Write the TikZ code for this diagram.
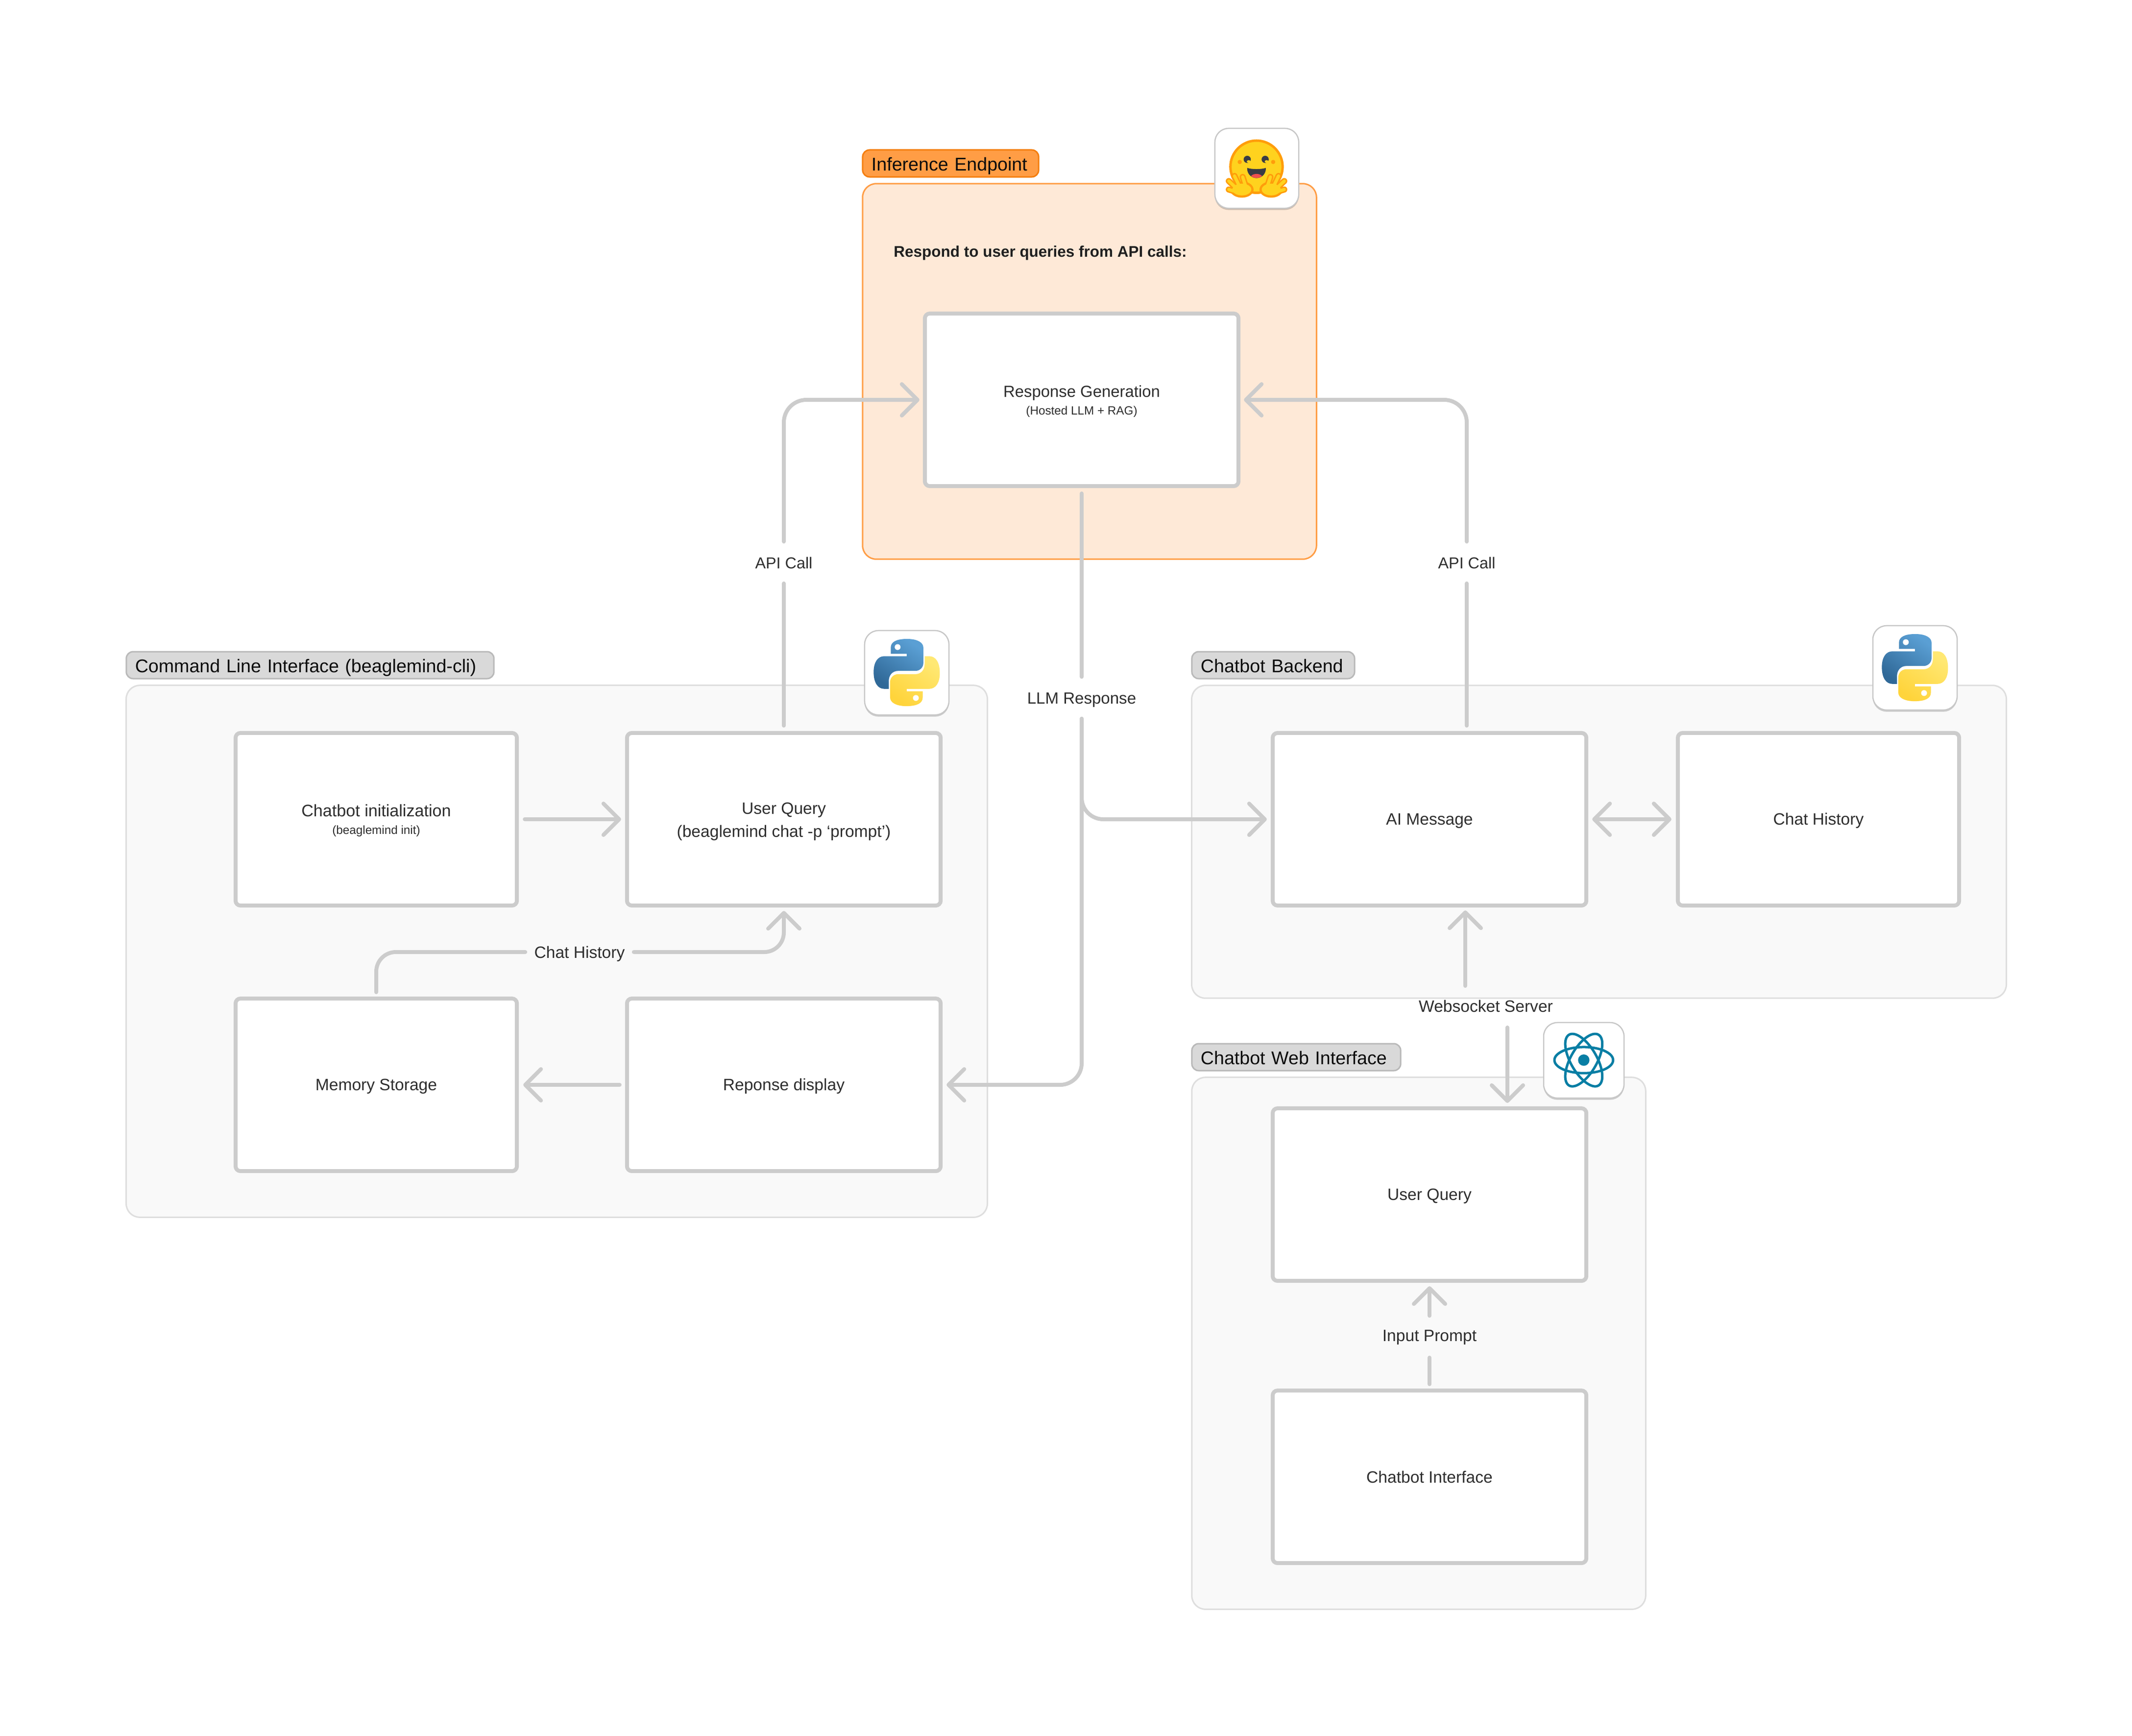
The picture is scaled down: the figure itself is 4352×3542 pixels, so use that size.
\documentclass[tikz,border=0pt]{standalone}
\usepackage{fontspec}
\setmainfont{Liberation Sans}
\usetikzlibrary{arrows.meta,shadows,calc}
\definecolor{linegray}{HTML}{CCCCCC}
\definecolor{txtgray}{HTML}{2E2E2E}
\definecolor{panelfill}{HTML}{F9F9F9}
\definecolor{panelline}{HTML}{DEDEDE}
\definecolor{orfill}{HTML}{FEE9D7}
\definecolor{orline}{HTML}{FF9D45}
\definecolor{pillfill}{HTML}{D9D9D9}
\definecolor{pillline}{HTML}{B9B9B9}
\definecolor{orpill}{HTML}{FF9D45}
\definecolor{orpilll}{HTML}{F47E0F}
\definecolor{pyblueA}{HTML}{5A9FD4}
\definecolor{pyblueB}{HTML}{306998}
\definecolor{pyyelA}{HTML}{FFE873}
\definecolor{pyyelB}{HTML}{FFD43B}
\definecolor{reactc}{HTML}{087EA4}
\definecolor{hfyel}{HTML}{FFD21E}
\definecolor{hfora}{HTML}{FF9D0B}
\definecolor{hfdark}{HTML}{3A3B45}
\definecolor{hfred}{HTML}{EF4E4E}
\newcommand{\mainsz}{\fontsize{9.55}{14}\selectfont}
\newcommand{\subsz}{\fontsize{6.9}{9}\selectfont}
\newcommand{\pillsz}{\fontsize{10.7}{13}\selectfont}
\newcommand{\pillstrut}{\rule[-2.6pt]{0pt}{13.8pt}}
\newcommand{\lowered}[1]{\raisebox{0pt}[\dimexpr\height+1.7pt\relax][\depth]{#1}}
\newcommand{\pylogo}[2]{%
 \begin{scope}[shift={(#1,#2)},x=0.003333cm,y=-0.003333cm]
  \path[left color=pyblueA,right color=pyblueB,shading angle=-35]
   (245,42) .. controls (180,42) and (145,60) .. (145,95) -- (145,133) -- (243,133) -- (243,148) -- (105,148)
   .. controls (65,148) and (40,185) .. (40,245) .. controls (40,310) and (65,348) .. (105,348) -- (133,348) -- (133,300)
   .. controls (133,265) and (155,238) .. (190,238) -- (295,238) .. controls (325,238) and (345,215) .. (345,190)
   -- (345,95) .. controls (345,65) and (310,42) .. (245,42) -- cycle;
  \fill[white] (187,92) circle (18);
  \begin{scope}[rotate around={180:(243,248)}]
  \path[left color=pyyelA,right color=pyyelB,shading angle=-35]
   (245,42) .. controls (180,42) and (145,60) .. (145,95) -- (145,133) -- (243,133) -- (243,148) -- (105,148)
   .. controls (65,148) and (40,185) .. (40,245) .. controls (40,310) and (65,348) .. (105,348) -- (133,348) -- (133,300)
   .. controls (133,265) and (155,238) .. (190,238) -- (295,238) .. controls (325,238) and (345,215) .. (345,190)
   -- (345,95) .. controls (345,65) and (310,42) .. (245,42) -- cycle;
  \fill[white] (187,92) circle (18);
  \end{scope}
 \end{scope}}
\newcommand{\hfhand}{%
  \foreach \ax/\ay/\bx/\by in {165/345/140/268,125/335/90/262,110/345/55/293,105/360/55/345}{
    \draw[hfora,line width=0.125cm,line cap=round] (\ax,\ay) -- (\bx,\by);}
  \fill[hfora] (135,345) ellipse [x radius=72,y radius=50];
  \foreach \ax/\ay/\bx/\by in {165/345/140/268,125/335/90/262,110/345/55/293,105/360/55/345}{
    \draw[hfyel,line width=0.065cm,line cap=round] (\ax,\ay) -- (\bx,\by);}
  \fill[hfyel] (135,345) ellipse [x radius=58,y radius=36];}
\tikzset{
 panel/.style={draw=panelline,fill=panelfill,line width=0.03cm,rounded corners=0.28cm,inner sep=0pt},
 orpanel/.style={draw=orline,fill=orfill,line width=0.03cm,rounded corners=0.28cm,inner sep=0pt},
 box/.style={draw=linegray,fill=white,line width=0.08cm,rounded corners=0.1cm,inner sep=0pt,
   font=\mainsz,text=txtgray,minimum height=3.52cm},
 wbox/.style={box,minimum width=6.4cm},
 nbox/.style={box,minimum width=5.74cm},
 oneline/.style={text height=9.2pt,text depth=2.4pt},
 linetext/.style={inner sep=0pt,font=\mainsz,text=txtgray,text height=9.7pt,text depth=2.4pt},
 vlabel/.style={linetext,minimum height=0.84cm},
 hlabel/.style={linetext,minimum width=2.2cm},
 pill/.style={draw=pillline,fill=pillfill,line width=0.03cm,rounded corners=0.14cm,inner xsep=0.18cm,inner ysep=0pt,
   font=\pillsz,text=black!95,align=left,minimum height=0.55cm},
 orangepill/.style={pill,draw=orpilll,fill=orpill},
 iconbox/.style={draw=black!22,fill=white,line width=0.025cm,rounded corners=0.28cm,inner sep=0pt,
   drop shadow={shadow xshift=0cm,shadow yshift=-0.035cm,opacity=0.18,fill=black}},
 conn/.style={draw=linegray,line width=0.08cm,line cap=round,line join=round},
 arrowed/.style={conn,-{Straight Barb[length=0.32cm,width=0.64cm,round]}},
 arrowedboth/.style={conn,{Straight Barb[length=0.32cm,width=0.64cm,round]}-{Straight Barb[length=0.32cm,width=0.64cm,round]}},
}
\begin{document}
\begin{tikzpicture}[x=0.01cm,y=-0.01cm]
\useasboundingbox (0,0) rectangle (4352,3542);
\fill[white] (0,0) rectangle (4352,3542);
% panels
\node[orpanel,minimum width=9.26cm,minimum height=7.66cm] (pinf) at (2224,758) {};
\node[panel,minimum width=17.57cm,minimum height=10.85cm] (pcli) at (1136.5,1941.5) {};
\node[panel,minimum width=16.62cm,minimum height=6.38cm] (pbk) at (3264,1718) {};
\node[panel,minimum width=9.26cm,minimum height=10.85cm] (pweb) at (2896,2741.5) {};
% section labels
\node[orangepill,text width=3.23cm] (linf) at (1940.5,333.5) {\pillstrut Inference Endpoint};
\node[pill,text width=7.14cm] (lcli) at (633,1357.5) {\pillstrut Command Line Interface (beaglemind-cli)};
\node[pill,text width=2.96cm] (lbk) at (2599,1357.5) {\pillstrut Chatbot Backend};
\node[pill,text width=3.90cm] (lweb) at (2646,2157.5) {\pillstrut Chatbot Web Interface};
\node[inner sep=0pt,font=\fontsize{8.95}{11}\selectfont\bfseries,text=black!88] (resptitle) at (2123.5,516) {Respond to user queries from API calls:};
% boxes
\node[wbox] (resp) at (2208,816) {\lowered{\begin{tabular}{@{}c@{}}{\fontsize{9.35}{14}\selectfont Response Generation}\\[-3.7pt]{\subsz (Hosted LLM + RAG)}\end{tabular}}};
\node[nbox] (init) at (768,1672) {\lowered{\begin{tabular}{@{}c@{}}{\fontsize{9.7}{14}\selectfont Chatbot initialization}\\[-3.7pt]{\subsz (beaglemind init)}\end{tabular}}};
\node[wbox] (uq1) at (1600,1672) {\lowered{\begin{tabular}{@{}c@{}}User Query\\[-0.8pt](beaglemind chat -p ‘prompt’)\end{tabular}}};
\node[nbox,oneline] (mem) at (768,2214) {Memory Storage};
\node[wbox,oneline] (disp) at (1600,2214) {Reponse display};
\node[wbox,oneline] (ai) at (2918,1672) {AI Message};
\node[nbox,oneline] (hist) at (3712,1672) {Chat History};
\node[wbox,oneline] (uq2) at (2918,2438) {User Query};
\node[wbox,oneline] (ifc) at (2918,3014) {Chatbot Interface};
% connector labels
\node[vlabel,font=\fontsize{9.2}{14}\selectfont] (apiL) at (1600,1148) {API Call};
\node[vlabel,font=\fontsize{9.2}{14}\selectfont] (apiR) at (2994,1148) {API Call};
\node[vlabel,font=\fontsize{9.4}{14}\selectfont] (llm) at (2208,1424) {LLM Response};
\node[vlabel,text height=8pt] (inp) at (2918,2728) {Input Prompt};
\node[hlabel] (chist) at (1183,1943) {Chat History};
\node[linetext,text height=8pt] (ws) at (3033,2056) {Websocket Server};
\coordinate (wsup) at (2991,2012);
\coordinate (wsdn) at (3077,2097);
% connectors
\draw[conn,shorten <=0.11cm] (uq1.north) -- (apiL.south);
\draw[arrowed,rounded corners=0.46cm,shorten >=0.07cm] (apiL.north) |- (resp.west);
\draw[conn,shorten <=0.11cm] (apiR.south |- ai.north) -- (apiR.south);
\draw[arrowed,rounded corners=0.46cm,shorten >=0.07cm] (apiR.north) |- (resp.east);
\draw[conn,shorten <=0.11cm] (resp.south) -- (llm.north);
\draw[arrowed,rounded corners=0.44cm,shorten >=0.08cm] (llm.south) |- (disp.east);
\draw[arrowed,rounded corners=0.44cm,shorten >=0.08cm] (llm.south) |- (ai.west);
\draw[arrowed,shorten <=0.12cm,shorten >=0.08cm] (init.east) -- (uq1.west);
\draw[arrowed,shorten <=0.11cm,shorten >=0.09cm] (disp.west) -- (mem.east);
\draw[arrowedboth,shorten <=0.08cm,shorten >=0.09cm] (ai.east) -- (hist.west);
\draw[conn,rounded corners=0.40cm,shorten <=0.09cm] (mem.north) |- (chist.west);
\draw[arrowed,rounded corners=0.40cm,shorten >=0.07cm] (chist.east) -| (uq1.south);
\draw[arrowed,shorten >=0.06cm] (wsup) -- (wsup |- ai.south);
\draw[arrowed,shorten >=0.07cm] (wsdn) -- (wsdn |- uq2.north);
\draw[conn,shorten <=0.09cm] (ifc.north) -- (inp.south);
\draw[arrowed,shorten >=0.07cm] (inp.north) -- (uq2.south);
% icons
\node[iconbox,minimum width=1.71cm,minimum height=1.63cm] (ihf) at (2565.5,343.5) {};
\node[iconbox,minimum width=1.72cm,minimum height=1.72cm] (ipy1) at (1851,1373) {};
\node[iconbox,minimum width=1.72cm,minimum height=1.72cm] (ipy2) at (3909,1363) {};
\node[iconbox,minimum width=1.64cm,minimum height=1.54cm] (ireact) at (3233,2164) {};
\pylogo{1770}{1290}
\pylogo{3828}{1280}
% react
\begin{scope}[shift={(3155,2090)},x=0.003333cm,y=-0.003333cm]
 \foreach \a in {0,60,120}{
  \draw[reactc,line width=0.05cm,rotate around={\a:(234,221)}] (234,221) ellipse [x radius=180,y radius=80];}
 \fill[reactc] (234,221) circle (35);
\end{scope}
% hugging face
\begin{scope}[shift={(2490,272)},x=0.003333cm,y=-0.003333cm]
 \fill[hfyel,draw=hfora,line width=0.05cm] (225,205) circle (160);
 \fill[hfora] (122,176) circle (13) (327,176) circle (13);
 \fill[hfdark] (168,160) circle (22) (278,160) circle (22);
 \fill[hfyel] (177,173) ellipse [x radius=12,y radius=8] (287,173) ellipse [x radius=12,y radius=8];
 \fill[hfdark] (168,212) .. controls (190,222) and (260,222) .. (282,212) .. controls (285,250) and (255,275) .. (225,275) .. controls (195,275) and (165,250) .. (168,212) -- cycle;
 \fill[hfred] (192,262) .. controls (205,245) and (245,245) .. (258,262) .. controls (245,278) and (205,278) .. (192,262) -- cycle;
 \hfhand
 \begin{scope}[x=-0.003333cm,shift={(-450,0)}]
  \hfhand
 \end{scope}
\end{scope}
\end{tikzpicture}
\end{document}
